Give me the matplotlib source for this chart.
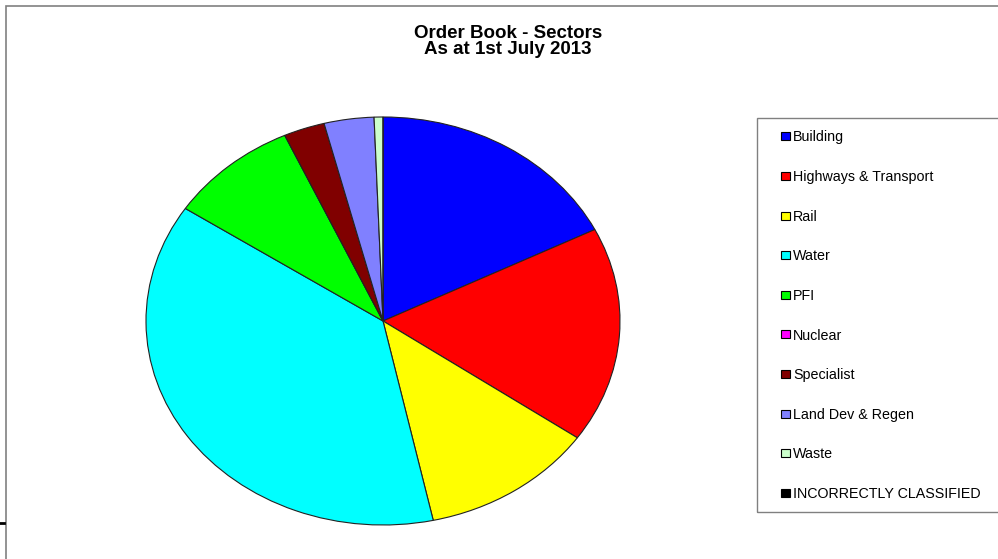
import matplotlib.pyplot as plt
from matplotlib.patches import Rectangle
from matplotlib.lines import Line2D

plt.rcParams['font.family'] = ['Liberation Sans', 'DejaVu Sans']

sectors = ["Building", "Highways & Transport", "Rail", "Water", "PFI", "Nuclear",
           "Specialist", "Land Dev & Regen", "Waste", "INCORRECTLY CLASSIFIED"]
shares = [17.6, 17.1, 11.9, 37.7, 8.9, 0.0, 2.8, 3.4, 0.6, 0.0]
colors = ["#0000FF", "#FF0000", "#FFFF00", "#00FFFF", "#00FF00", "#FF00FF",
          "#800000", "#8080FF", "#CCFFCC", "#000000"]

W, H = 998, 559
fig = plt.figure(figsize=(W / 100, H / 100), dpi=100)

# chart border (gray frame, runs off right/bottom)
fig.patches.append(Rectangle((6 / W, -0.1), 1.2, (H - 6) / H + 0.1, transform=fig.transFigure,
                             fill=False, edgecolor="#808080", linewidth=1.2))
fig.lines.append(Line2D([0, 4 / W], [1 - 523 / H] * 2, transform=fig.transFigure,
                        color="black", linewidth=2))

ax = fig.add_axes([146 / W, 1 - 525 / H, 474 / W, 408 / H])
wedges, _ = ax.pie(shares, colors=colors, startangle=90, counterclock=False,
                   wedgeprops=dict(edgecolor="#222222", linewidth=0.8))
ax.set_aspect("auto")
ax.set_xlim(-1, 1)
ax.set_ylim(-1, 1)

fig.text(508 / W, 1 - 33 / H, "Order Book - Sectors", ha="center", va="center",
         fontsize=13.5, fontweight="bold")
fig.text(508 / W, 1 - 49.5 / H, "As at 1st July 2013", ha="center", va="center",
         fontsize=13.5, fontweight="bold")

# legend box
fig.patches.append(Rectangle((757 / W, 1 - 512 / H), 0.5, (512 - 118) / H,
                             transform=fig.transFigure, fill=False,
                             edgecolor="#808080", linewidth=1.0))

handles = [Rectangle((0, 0), 1, 1, facecolor=c, edgecolor="black", linewidth=0.8) for c in colors]
leg = fig.legend(handles, sectors, loc="upper left", bbox_to_anchor=(781 / W, 1 - 130.5 / H),
                 fontsize=10.3, frameon=False,
                 handlelength=0.63, handleheight=0.49, handletextpad=0.21,
                 labelspacing=1.79, borderpad=0, borderaxespad=0)

fig.savefig("out.png", dpi=100, facecolor="white")
